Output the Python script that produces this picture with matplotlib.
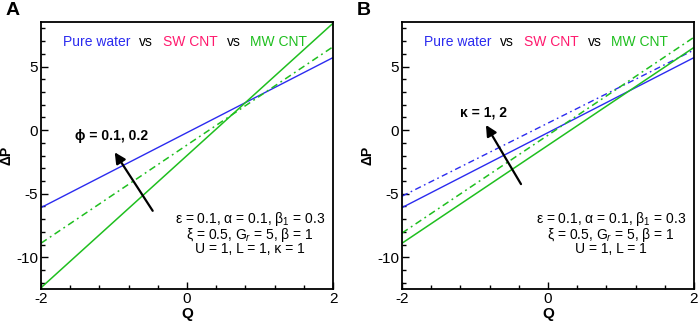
import matplotlib
matplotlib.use('Agg')
import matplotlib.pyplot as plt
from matplotlib.ticker import MultipleLocator

plt.rcParams['font.family'] = ['Liberation Sans', 'DejaVu Sans']
plt.rcParams['mathtext.fontset'] = 'custom'
plt.rcParams['mathtext.rm'] = 'Liberation Sans'
plt.rcParams['mathtext.it'] = 'Liberation Sans:italic'
plt.rcParams['axes.unicode_minus'] = False

# ── data (all curves are straight lines) ──
q = [-2, 2]

# panel A: effect of phi
a_water = [-6.1, 5.7]
a_mw_phi1 = [-8.9, 6.55]
a_mw_phi2 = [-12.4, 8.4]

# panel B: effect of kappa
b_water_k1 = [-6.1, 5.7]
b_water_k2 = [-5.2, 6.3]
b_mw_k1 = [-8.9, 6.5]
b_mw_k2 = [-8.1, 7.3]

params_a = ['ε = 0.1, α = 0.1, β$_1$ = 0.3',
            'ξ = 0.5, G$_r$ = 5, β = 1',
            'U = 1, L = 1, κ = 1']
params_b = ['ε = 0.1, α = 0.1, β$_1$ = 0.3',
            'ξ = 0.5, G$_r$ = 5, β = 1',
            'U = 1, L = 1']

BLUE = '#2b2bef'
GREEN = '#1fbf1f'
PINK = '#ff1a6e'
DASHDOT = (0, (4.5, 2.5, 1.2, 2.5))


def style_axes(ax):
    ax.set_xlim(-2, 2)
    ax.set_ylim(-12.5, 8.5)
    ax.xaxis.set_major_locator(MultipleLocator(2))
    ax.xaxis.set_minor_locator(MultipleLocator(0.4))
    ax.yaxis.set_major_locator(MultipleLocator(5))
    ax.yaxis.set_minor_locator(MultipleLocator(1))
    ax.tick_params(which='both', direction='in', top=False, right=False,
                   labelsize=11, width=1.0)
    ax.tick_params(which='major', length=5, pad=2)
    ax.tick_params(which='minor', length=2.8)
    for s in ax.spines.values():
        s.set_linewidth(1.3)
    ax.set_xlabel('Q', fontsize=11, fontweight='bold', labelpad=1)
    ax.set_ylabel('ΔP', fontsize=10, fontweight='bold', labelpad=2)


def legend_text(ax):
    y = 6.9
    parts = [(-1.70, 'Pure water', BLUE), (-0.66, 'vs', 'black'),
             (-0.33, 'SW CNT', PINK), (0.55, 'vs', 'black'),
             (0.86, 'MW CNT', GREEN)]
    for x, s, c in parts:
        ax.text(x, y, s, color=c, fontsize=10, ha='left', va='center')


def param_text(ax, lines):
    ax.text(0.86, -8.1, '\n'.join(lines), fontsize=10, ha='center',
            va='center', multialignment='center', linespacing=0.87)


fig = plt.figure(figsize=(6.99, 3.21), dpi=100)
axA = fig.add_axes([41 / 699, 1 - 289 / 321, 292 / 699, 267 / 321])
axB = fig.add_axes([402 / 699, 1 - 289 / 321, 292 / 699, 267 / 321])

# panel A
axA.plot(q, a_water, color=BLUE, lw=1.0)
axA.plot(q, a_mw_phi1, color=GREEN, lw=1.1, linestyle=DASHDOT)
axA.plot(q, a_mw_phi2, color=GREEN, lw=1.1)
style_axes(axA)
legend_text(axA)
param_text(axA, params_a)
axA.annotate('', xy=(-0.99, -1.75), xytext=(-0.47, -6.35),
             arrowprops=dict(arrowstyle='-|>', lw=1.6, color='black',
                             mutation_scale=16, shrinkA=0, shrinkB=0))
axA.text(-1.53, -0.45, 'ϕ = 0.1, 0.2', fontsize=10, fontweight='bold',
         ha='left', va='center')

# panel B
axB.plot(q, b_water_k1, color=BLUE, lw=1.0)
axB.plot(q, b_water_k2, color=BLUE, lw=1.0, linestyle=DASHDOT)
axB.plot(q, b_mw_k1, color=GREEN, lw=1.1)
axB.plot(q, b_mw_k2, color=GREEN, lw=1.1, linestyle=DASHDOT)
style_axes(axB)
legend_text(axB)
param_text(axB, params_b)
axB.annotate('', xy=(-0.85, 0.4), xytext=(-0.37, -4.25),
             arrowprops=dict(arrowstyle='-|>', lw=1.6, color='black',
                             mutation_scale=16, shrinkA=0, shrinkB=0))
axB.text(-1.21, 1.4, 'κ = 1, 2', fontsize=10, fontweight='bold',
         ha='left', va='center')

fig.text(6 / 699, 1 - 15 / 321, 'A', fontsize=14, fontweight='bold',
         ha='left', va='baseline')
fig.text(357 / 699, 1 - 15 / 321, 'B', fontsize=14, fontweight='bold',
         ha='left', va='baseline')

fig.savefig('out.png', dpi=100)
